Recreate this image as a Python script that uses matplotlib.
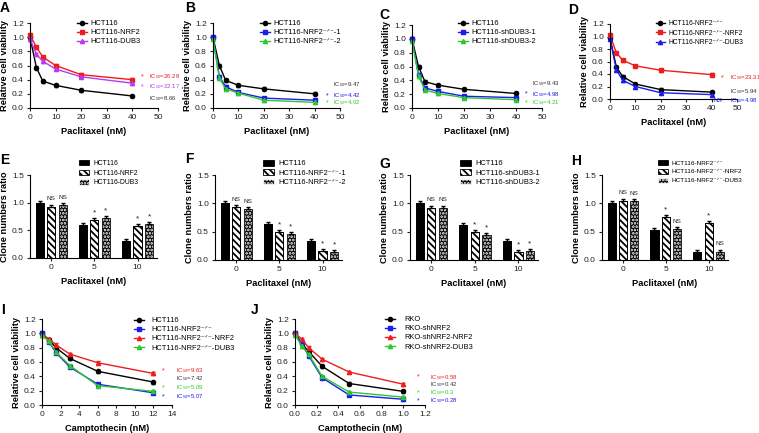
import numpy as np
import matplotlib.pyplot as plt
from matplotlib.lines import Line2D
from matplotlib.ticker import FormatStrFormatter

plt.rcParams['font.family'] = ['Liberation Sans', 'DejaVu Sans']
plt.rcParams['mathtext.fontset'] = 'custom'
plt.rcParams['mathtext.rm'] = 'Liberation Sans'
plt.rcParams['mathtext.bf'] = 'Liberation Sans:bold'
plt.rcParams['hatch.linewidth'] = 1.3

# ---- data ----
pac_x = [0, 2.5, 5, 10, 20, 40]

a_hct116 = [1.00, 0.57, 0.38, 0.32, 0.25, 0.17]
a_nrf2 = [1.03, 0.86, 0.72, 0.60, 0.47, 0.40]
a_dub3 = [0.97, 0.76, 0.66, 0.55, 0.44, 0.35]

b_hct116 = [1.00, 0.60, 0.39, 0.32, 0.27, 0.20]
b_ko1 = [1.00, 0.44, 0.30, 0.22, 0.14, 0.11]
b_ko2 = [0.98, 0.42, 0.27, 0.21, 0.11, 0.08]

c_hct116 = [1.00, 0.60, 0.38, 0.33, 0.27, 0.21]
c_sh1 = [1.00, 0.48, 0.29, 0.24, 0.17, 0.15]
c_sh2 = [0.97, 0.46, 0.26, 0.21, 0.15, 0.12]

d_ko = [0.98, 0.51, 0.36, 0.24, 0.15, 0.11]
d_ko_nrf2 = [1.02, 0.74, 0.62, 0.53, 0.46, 0.39]
d_ko_dub3 = [0.96, 0.47, 0.30, 0.20, 0.10, 0.07]

dose_groups = ['0', '5', '10']
e_hct116 = [1.00, 0.60, 0.31]
e_nrf2 = [0.93, 0.69, 0.58]
e_dub3 = [0.96, 0.72, 0.61]
e_marks = [['', 'NS', 'NS'], ['', '*', '*'], ['', '*', '*']]

f_hct116 = [1.00, 0.63, 0.34]
f_ko1 = [0.93, 0.50, 0.16]
f_ko2 = [0.90, 0.46, 0.15]
f_marks = [['', 'NS', 'NS'], ['', '*', '*'], ['', '*', '*']]

g_hct116 = [1.00, 0.62, 0.34]
g_sh1 = [0.92, 0.49, 0.15]
g_sh2 = [0.92, 0.44, 0.16]
g_marks = [['', 'NS', 'NS'], ['', '*', '*'], ['', '*', '*']]

h_ko = [1.00, 0.53, 0.15]
h_ko_nrf2 = [1.05, 0.76, 0.65]
h_ko_dub3 = [1.04, 0.54, 0.15]
h_marks = [['', 'NS', 'NS'], ['', '*', 'NS'], ['', '*', 'NS']]

cpt_x = [0, 0.75, 1.5, 3, 6, 12]
i_hct116 = [1.00, 0.91, 0.80, 0.65, 0.47, 0.32]
i_ko = [1.00, 0.88, 0.73, 0.53, 0.29, 0.17]
i_ko_nrf2 = [0.98, 0.92, 0.84, 0.71, 0.59, 0.44]
i_ko_dub3 = [0.97, 0.89, 0.74, 0.55, 0.27, 0.19]

rko_x = [0, 0.0625, 0.125, 0.25, 0.5, 1.0]
j_rko = [1.00, 0.86, 0.75, 0.54, 0.30, 0.19]
j_sh = [1.00, 0.86, 0.69, 0.38, 0.14, 0.08]
j_sh_nrf2 = [1.00, 0.92, 0.80, 0.64, 0.46, 0.29]
j_sh_dub3 = [0.98, 0.82, 0.71, 0.40, 0.18, 0.11]

KO = 'HCT116-NRF2\u207b\u141f\u207b'
BLACK, RED, PURPLE, BLUE, GREEN = 'black', '#ee1c1c', '#b63cf0', '#1c1cf0', '#2ec82e'
GREY = '#333333'

W, H = 759, 433
fig = plt.figure(figsize=(W / 100, H / 100), dpi=100)

TICK_FS = 6
LAB_FS = 6.7


def add_ax(l, t, r, b):
    ax = fig.add_axes([l / W, 1 - b / H, (r - l) / W, (b - t) / H])
    for s in ['top', 'right']:
        ax.spines[s].set_visible(False)
    ax.tick_params(labelsize=TICK_FS, length=2.5, width=0.8, pad=2, colors='#222222')
    return ax


def fig_legend(ax, handles, x, y, fs, **kw):
    # keep rows about 10.5 px apart whatever the font size
    ls = 10.5 / (fs * 1.389) - 1.15
    ax.legend(handles=handles, loc='upper left', bbox_to_anchor=(x / W, 1 - y / H),
              bbox_transform=fig.transFigure, frameon=False, fontsize=fs,
              borderpad=0, borderaxespad=0, labelspacing=ls, **kw)


def line_panel(box, x, series, xmax, xstep, xlabel, leg_xy, ic50, pad=0.5, fs=5.4):
    ax = add_ax(*box)
    handles = []
    for y, c, m, lab in series:
        ax.errorbar(x, y, yerr=0.02, color=c, marker=m, ms=3, lw=1,
                    capsize=1.5, elinewidth=0.8, clip_on=False)
        handles.append(Line2D([], [], color=c, marker=m, ms=3, lw=1, label=lab))
    ax.set_xlim(0, xmax)
    ax.set_ylim(0, 1.2)
    ax.set_xticks(np.arange(0, xmax + xstep / 2, xstep))
    ax.set_yticks(np.arange(0, 1.21, 0.2))
    ax.yaxis.set_major_formatter(FormatStrFormatter('%.1f'))
    if xstep < 1:
        ax.xaxis.set_major_formatter(FormatStrFormatter('%.1f'))
    ax.set_xlabel(xlabel, fontsize=LAB_FS, fontweight='bold', labelpad=4)
    ax.set_ylabel('Relative cell viability', fontsize=LAB_FS, fontweight='bold', labelpad=2)
    fig_legend(ax, handles, leg_xy[0], leg_xy[1], fs, handlelength=1.3, handletextpad=pad)
    for mx, tx, ty, mark, txt, c in ic50:
        if mark:
            ax.text(mx, ty, mark, color=c, fontsize=5, va='center', ha='center', clip_on=False)
        ax.text(tx, ty, r'IC$_{50}$=' + txt, color=c, fontsize=4.3, va='center', clip_on=False)
    return ax


def bar_panel(box, vals, labels, marks, leg_xy, fs=5.4):
    ax = add_ax(*box)
    xs = np.arange(len(dose_groups))
    styles = [dict(facecolor='black', edgecolor='black'),
              dict(facecolor='white', edgecolor='black', hatch='\\\\\\\\\\'),
              dict(facecolor='black', edgecolor='white', hatch='.....')]
    handles = []
    for k, (v, lab, st) in enumerate(zip(vals, labels, styles)):
        pos = xs + (k - 1) * 0.266
        err = 0.035
        ax.errorbar(pos, v, yerr=[[0] * len(v), [err] * len(v)], fmt='none',
                    ecolor='black', elinewidth=0.8, capsize=1.5)
        b = ax.bar(pos, v, width=0.19, linewidth=0.6, label=lab, **st)
        ax.bar(pos, v, width=0.19, fill=False, edgecolor='black', linewidth=0.6)
        handles.append(b)
        for g, (p, val) in enumerate(zip(pos, v)):
            m = marks[g][k]
            if m == 'NS':
                ax.text(p, val + err + 0.06, m, ha='center', va='bottom', fontsize=4.6, color='#222222')
            elif m:
                ax.text(p, val + err + 0.09, m, ha='center', va='center', fontsize=6, color='#222222')
    ax.set_xlim(-0.49, 2.45)
    ax.set_ylim(0, 1.5)
    ax.set_xticks(xs)
    ax.set_xticklabels(dose_groups)
    ax.set_yticks([0, 0.5, 1.0, 1.5])
    ax.yaxis.set_major_formatter(FormatStrFormatter('%.1f'))
    ax.set_xlabel('Paclitaxel (nM)', fontsize=LAB_FS, fontweight='bold', labelpad=4)
    ax.set_ylabel('Clone numbers ratio', fontsize=LAB_FS, fontweight='bold', labelpad=2)
    fig_legend(ax, handles, leg_xy[0], leg_xy[1], fs, handlelength=1.5, handleheight=0.8,
               handletextpad=0.6)
    return ax


# ---- top row: paclitaxel viability ----
line_panel((30, 23, 158, 108), pac_x,
           [(a_hct116, BLACK, 'o', 'HCT116'), (a_nrf2, RED, 's', 'HCT116-NRF2'),
            (a_dub3, PURPLE, '^', 'HCT116-DUB3')],
           50, 10, 'Paclitaxel (nM)', (77, 20),
           [(44, 46.5, 0.44, '*', '26.28', RED), (44, 46.5, 0.30, '*', '22.17', PURPLE),
            (44, 46.5, 0.14, '', '8.66', GREY)])

line_panel((213, 23, 340, 108), pac_x,
           [(b_hct116, BLACK, 'o', 'HCT116'), (b_ko1, BLUE, 's', KO + '-1'),
            (b_ko2, GREEN, '^', KO + '-2')],
           50, 10, 'Paclitaxel (nM)', (260, 20),
           [(45, 47.2, 0.325, '', '9.47', GREY), (45, 47.2, 0.17, '*', '4.42', BLUE),
            (45, 47.2, 0.07, '*', '4.02', GREEN)])

line_panel((412, 25, 542, 108), pac_x,
           [(c_hct116, BLACK, 'o', 'HCT116'), (c_sh1, BLUE, 's', 'HCT116-shDUB3-1'),
            (c_sh2, GREEN, '^', 'HCT116-shDUB3-2')],
           50, 10, 'Paclitaxel (nM)', (458, 20),
           [(44, 46.2, 0.347, '', '9.43', GREY), (44, 46.2, 0.20, '*', '4.98', BLUE),
            (44, 46.2, 0.072, '*', '4.21', GREEN)])

line_panel((610, 24, 737, 99), pac_x,
           [(d_ko, BLACK, 'o', KO), (d_ko_nrf2, RED, 's', KO + '-NRF2'),
            (d_ko_dub3, BLUE, '^', KO + '-DUB3')],
           50, 10, 'Paclitaxel (nM)', (656, 20),
           [(44.1, 47.2, 0.336, '*', '23.31', RED), (44.1, 47.2, 0.112, '', '5.94', GREY),
            (42.8, 47.2, -0.03, '', '4.98', BLUE)], fs=4.9)
fig.text(718 / W, 1 - 101 / H, 'NS', color=BLUE, fontsize=4.6, va='center', ha='center')

# ---- middle row: colony formation ----
bar_panel((30, 175, 157, 258), [e_hct116, e_nrf2, e_dub3],
          ['HCT116', 'HCT116-NRF2', 'HCT116-DUB3'], e_marks, (79, 160), fs=4.9)
bar_panel((215, 175, 342, 260), [f_hct116, f_ko1, f_ko2],
          ['HCT116', KO + '-1', KO + '-2'], f_marks, (263, 160))
bar_panel((410, 175, 538, 260), [g_hct116, g_sh1, g_sh2],
          ['HCT116', 'HCT116-shDUB3-1', 'HCT116-shDUB3-2'], g_marks, (460, 160))
bar_panel((602, 175, 728, 260), [h_ko, h_ko_nrf2, h_ko_dub3],
          [KO, KO + '-NRF2', KO + '-DUB3'], h_marks, (658, 160), fs=4.6)

# ---- bottom row: camptothecin ----
line_panel((42, 319, 172, 405), cpt_x,
           [(i_hct116, BLACK, 'o', 'HCT116'), (i_ko, BLUE, 's', KO),
            (i_ko_nrf2, RED, '^', KO + '-NRF2'), (i_ko_dub3, GREEN, '^', KO + '-DUB3')],
           14, 2, 'Camptothecin (nM)', (134, 317),
           [(13.1, 14.4, 0.474, '*', '9.63', RED), (13.1, 14.4, 0.363, '', '7.42', GREY),
            (13.1, 14.4, 0.237, '*', '5.09', GREEN), (13.1, 14.4, 0.112, '*', '5.07', BLUE)],
           pad=1.0)

line_panel((295, 319, 425, 405), rko_x,
           [(j_rko, BLACK, 'o', 'RKO'), (j_sh, BLUE, 's', 'RKO-shNRF2'),
            (j_sh_nrf2, RED, '^', 'RKO-shNRF2-NRF2'), (j_sh_dub3, GREEN, '^', 'RKO-shNRF2-DUB3')],
           1.2, 0.2, 'Camptothecin (nM)', (385, 316),
           [(1.136, 1.246, 0.39, '*', '0.58', RED), (1.136, 1.246, 0.28, '', '0.42', GREY),
            (1.136, 1.246, 0.167, '*', '0.3', GREEN), (1.136, 1.246, 0.056, '*', '0.28', BLUE)],
           pad=1.3)

# panel letters
letters = ['A', 'B', 'C', 'D', 'E', 'F', 'G', 'H', 'I', 'J']
letter_xy = [(0, 1), (185, 1), (379, 8), (568, 3), (0, 153), (185, 152), (379, 157), (571, 154),
             (1, 303), (251, 303)]
for lt, (lx, ly) in zip(letters, letter_xy):
    fig.text(lx / W, 1 - ly / H, lt, fontsize=10, fontweight='bold', va='top', ha='left')

fig.savefig('out.png', dpi=100)
